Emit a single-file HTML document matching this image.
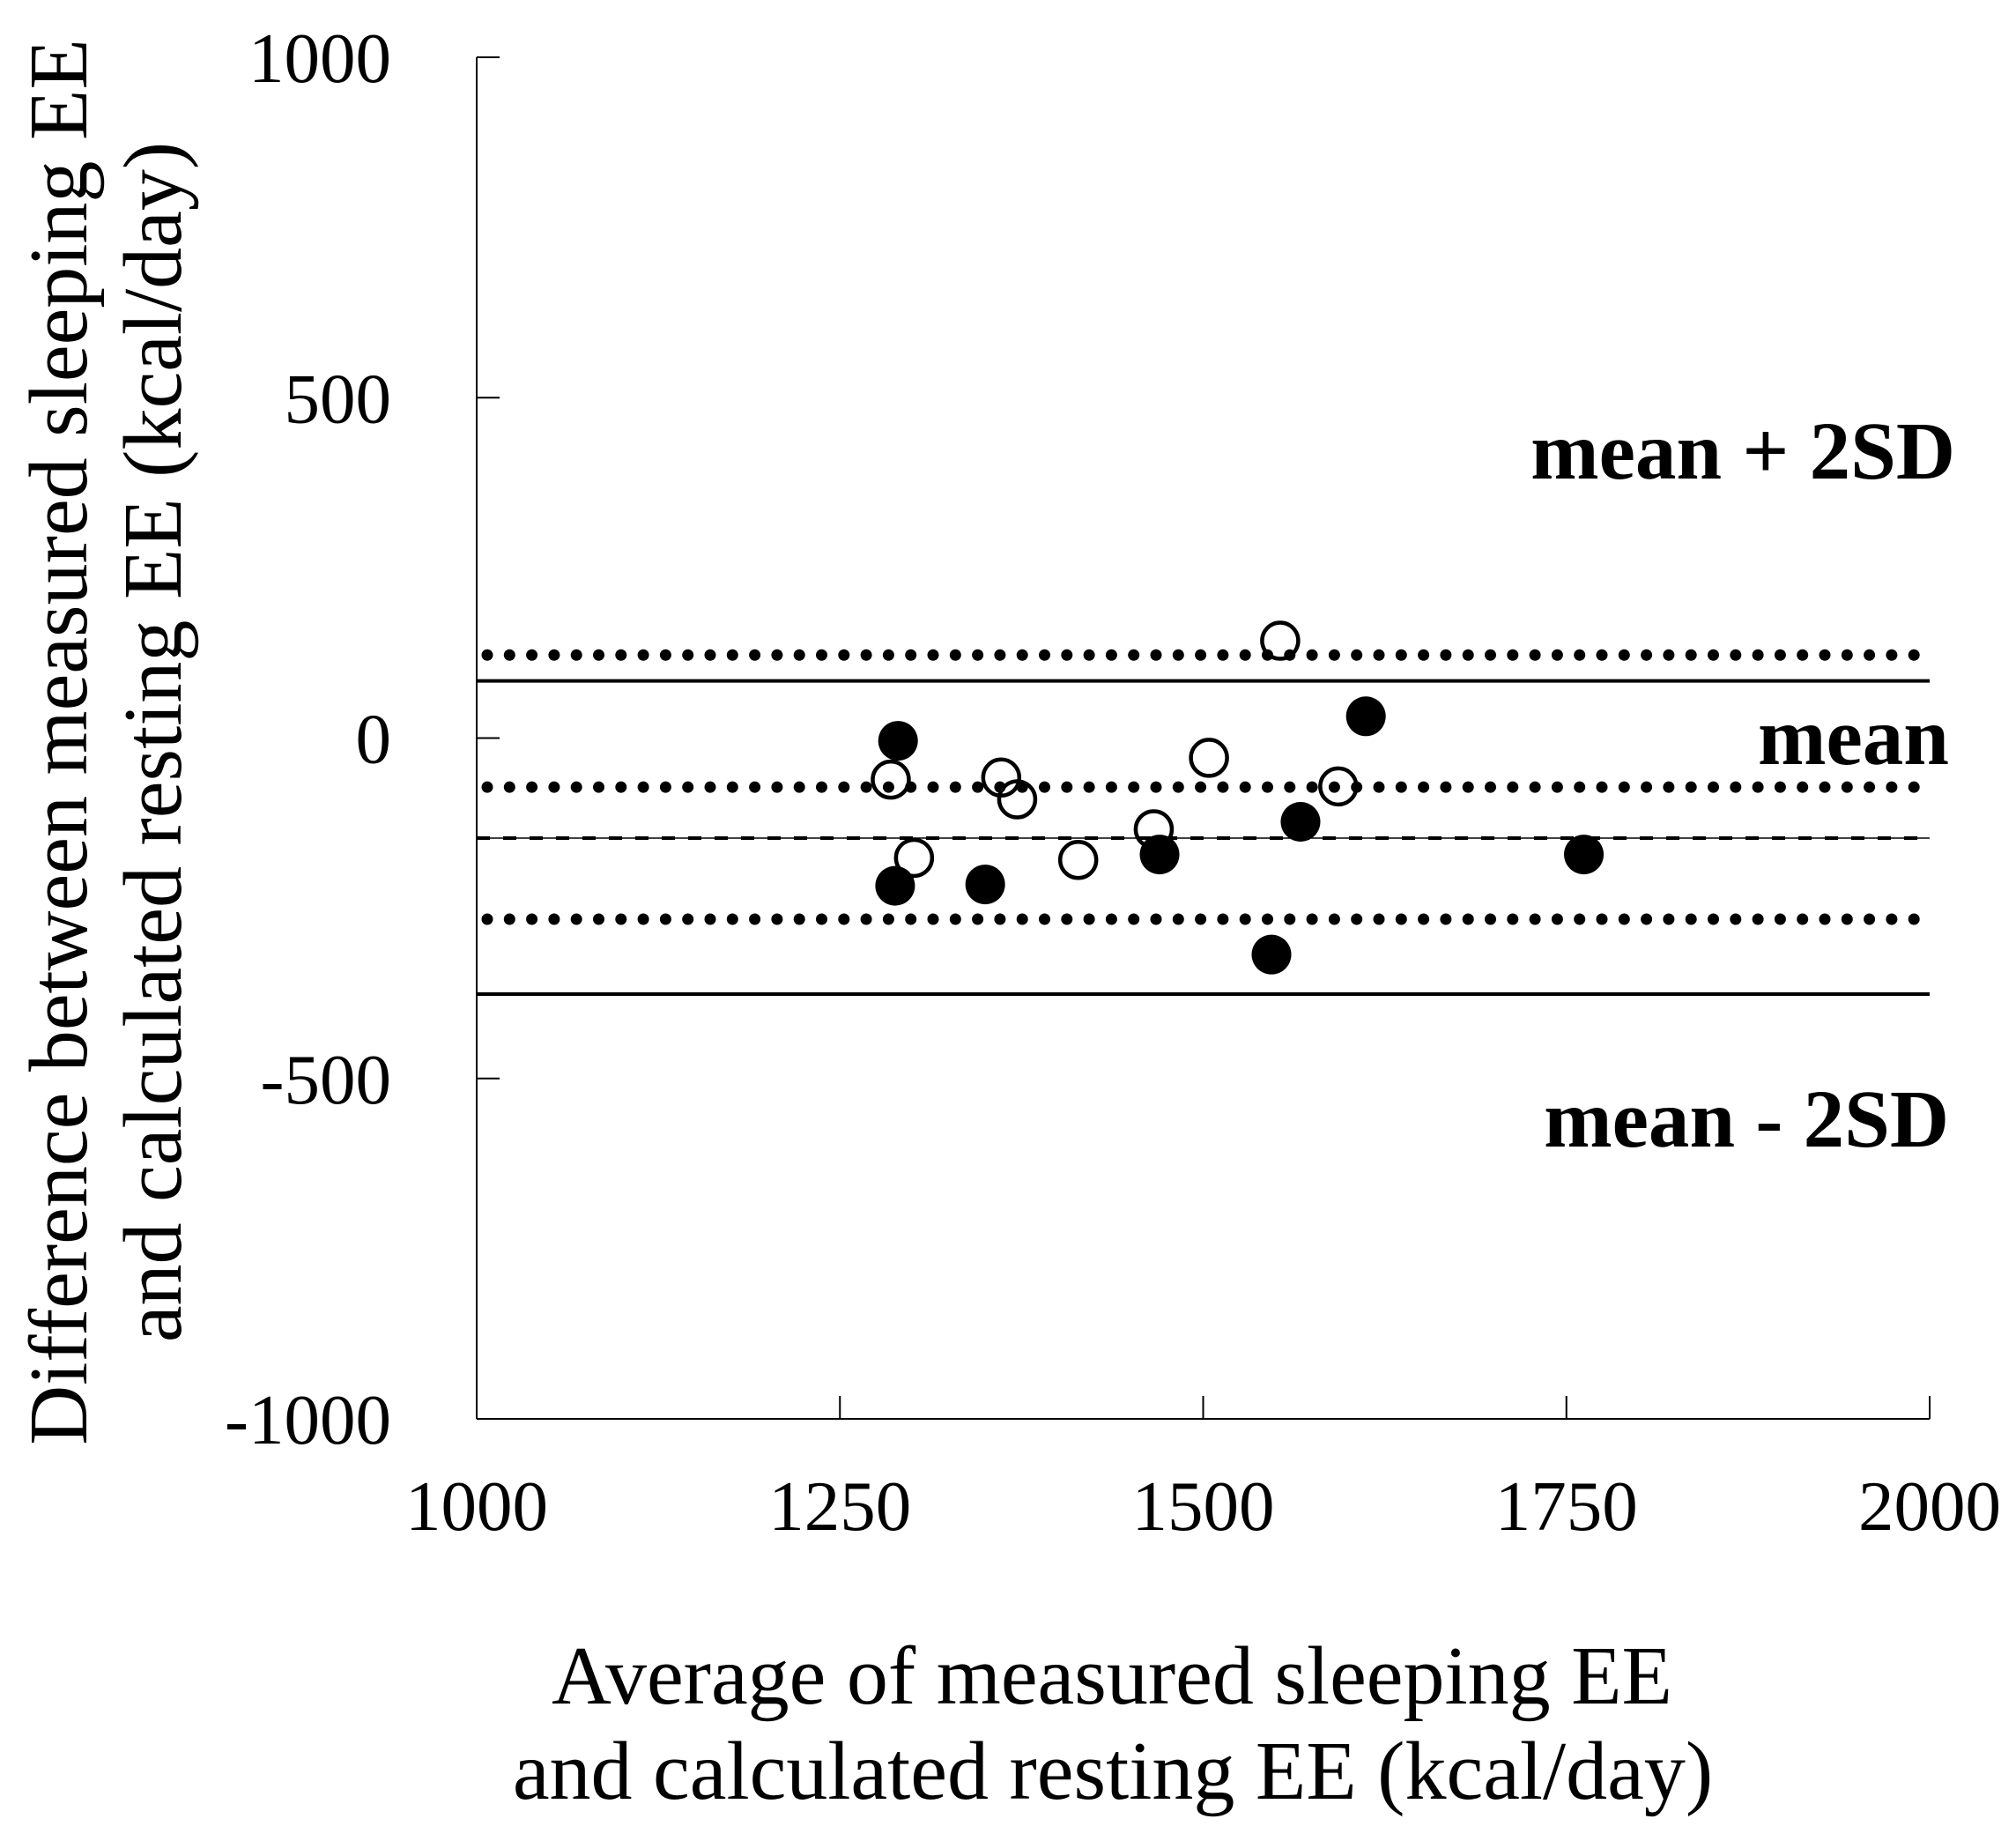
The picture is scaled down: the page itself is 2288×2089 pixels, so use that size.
<!DOCTYPE html>
<html><head><meta charset="utf-8"><style>
html,body{margin:0;padding:0;background:#fff;}
svg{display:block;}
text{font-family:"Liberation Serif",serif;fill:#000;}
</style></head><body>
<svg id="chart" width="2288" height="2089" viewBox="0 0 2288 2089" xmlns="http://www.w3.org/2000/svg">
<g id="grid-lines"></g>
<g id="axes"></g>
<g id="points"></g>
<g id="labels"></g>
</svg>
<script>
const xTicks = [1000, 1250, 1500, 1750, 2000];
const yTicks = [1000, 500, 0, -500, -1000];
const filledX = [1290, 1288, 1350, 1470, 1547, 1567, 1612, 1762];
const filledY = [-4, -217, -215, -171, -318, -123, 32, -171];
const openX = [1285, 1301, 1361, 1372, 1414, 1466, 1504, 1553, 1593];
const openY = [-61, -176, -58, -90, -179, -134, -29, 143, -71];
const solidLines = [84, -376];
const dottedLines = [122, -72, -266];
const dashedLines = [-147];

const NS = "http://www.w3.org/2000/svg";
const X0 = 541, X1 = 2190, Y0 = 65, Y1 = 1610;
function sx(v){ return X0 + (v - 1000) / 1000 * (X1 - X0); }
function sy(v){ return Y1 - (v + 1000) / 2000 * (Y1 - Y0); }
function mk(tag, attrs, parent){
  const e = document.createElementNS(NS, tag);
  for (const k in attrs) e.setAttribute(k, attrs[k]);
  parent.appendChild(e);
  return e;
}
const gGrid = document.getElementById('grid-lines');
const gAxes = document.getElementById('axes');
const gPts = document.getElementById('points');
const gLab = document.getElementById('labels');

let ya = mk('line', {x1:X0, y1:Y0, x2:X0, y2:Y1, stroke:'#000', 'stroke-width':2}, gAxes);


let xa = mk('line', {x1:X0, y1:Y1, x2:X1, y2:Y1, stroke:'#000', 'stroke-width':2}, gAxes);



yTicks.forEach(function(t){
  const y = sy(t);
  const tk = mk('line', {x1:X0, y1:y, x2:X0+26, y2:y, stroke:'#000', 'stroke-width':2}, gAxes);
  
  
  const tx = mk('text', {x:444, y:y+28, 'font-size':81, 'text-anchor':'end'}, gAxes);
  tx.textContent = t;
  
  
});
xTicks.forEach(function(t){
  const x = sx(t);
  const tk = mk('line', {x1:x, y1:Y1, x2:x, y2:Y1-26, stroke:'#000', 'stroke-width':2}, gAxes);
  
  
  const tx = mk('text', {x:x, y:1736, 'font-size':81, 'text-anchor':'middle'}, gAxes);
  tx.textContent = t;
  
  
});

dottedLines.forEach(function(v){
  const l = mk('line', {x1:X0+12, y1:sy(v), x2:X1, y2:sy(v), stroke:'#000', 'stroke-width':13, 'stroke-linecap':'round', 'stroke-dasharray':'0 25.3'}, gGrid);
  
  
});
solidLines.forEach(function(v){
  const l = mk('line', {x1:X0, y1:sy(v), x2:X1, y2:sy(v), stroke:'#000', 'stroke-width':4}, gGrid);
  
  
});
dashedLines.forEach(function(v){
  const l1 = mk('line', {x1:X0, y1:sy(v), x2:X1, y2:sy(v), stroke:'#000', 'stroke-width':1.5}, gGrid);
  
  
  const l2 = mk('line', {x1:X0, y1:sy(v), x2:X1, y2:sy(v), stroke:'#000', 'stroke-width':4, 'stroke-dasharray':'15 15'}, gGrid);
  
  
});

openX.forEach(function(v, i){
  const c = mk('circle', {cx:sx(v), cy:sy(openY[i]), r:20.5, fill:'none', stroke:'#000', 'stroke-width':4.5}, gPts);
  
  
});
filledX.forEach(function(v, i){
  const c = mk('circle', {cx:sx(v), cy:sy(filledY[i]), r:22.5, fill:'#000'}, gPts);
  
  
});

function label(txt, x, y, name){
  const t = mk('text', {x:x, y:y, 'font-size':93, 'font-weight':'bold', 'text-anchor':'end'}, gLab);
  t.textContent = txt;
  
  
}
label('mean + 2SD', 2219, 543, 'upper-limit-label');
label('mean', 2212, 867, 'mean-label');
label('mean - 2SD', 2212, 1301, 'lower-limit-label');

function title(txt, x, y, rot, name){
  const t = mk('text', {x:x, y:y, 'font-size':94, 'text-anchor':'middle'}, gLab);
  if (rot) t.setAttribute('transform', 'rotate(-90 ' + x + ' ' + y + ')');
  t.textContent = txt;
  
  
}
title('Average of measured sleeping EE', 1262, 1933, false, 'x-axis-title-line1');
title('and calculated resting EE (kcal/day)', 1263, 2041, false, 'x-axis-title-line2');
title('Difference between measured sleeping EE', 98, 842, true, 'y-axis-title-line1');
title('and calculated resting EE (kcal/day)', 205, 842, true, 'y-axis-title-line2');
</script>
</body></html>
